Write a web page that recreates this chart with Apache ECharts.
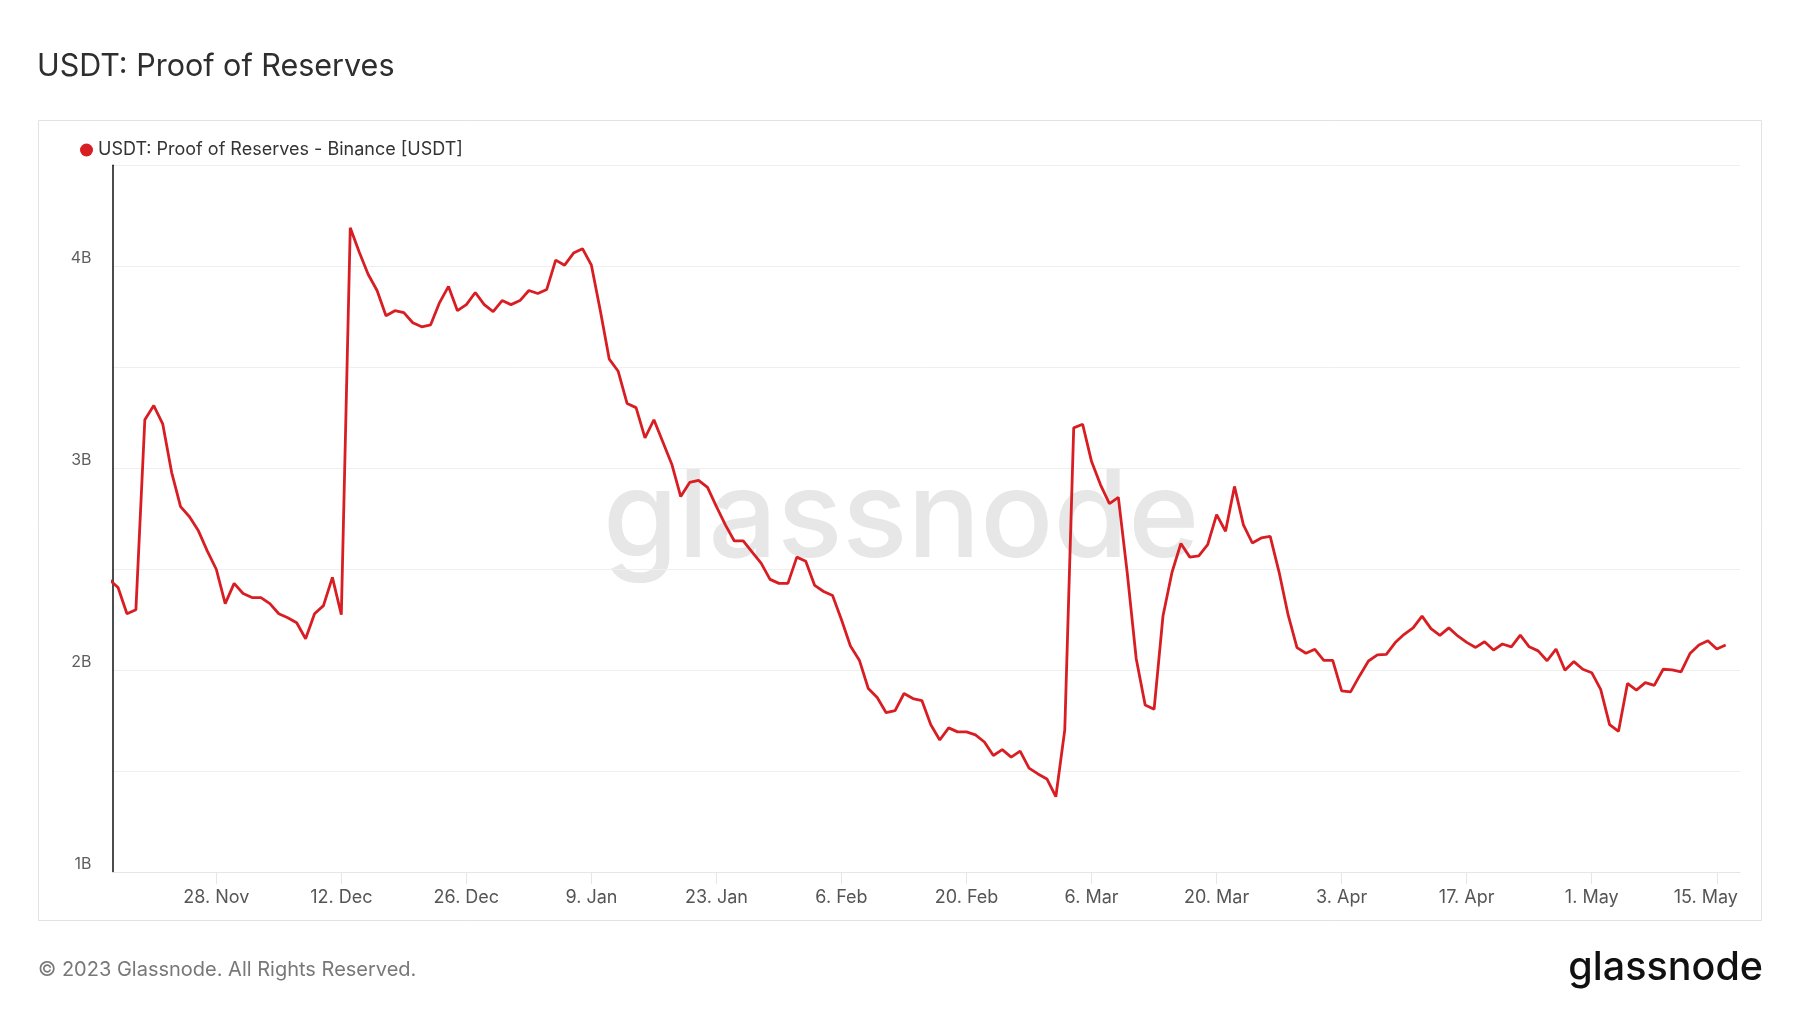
<!DOCTYPE html>
<html>
<head>
<meta charset="utf-8">
<script src="https://cdn.jsdelivr.net/npm/echarts@6/dist/echarts.min.js"></script>
<style>
  html, body { margin: 0; padding: 0; background: #ffffff; }
  #chart { width: 1800px; height: 1013px; }
</style>
</head>
<body>
<div id="chart"></div>
<script>
// ---- data ----
const seriesName = 'USDT: Proof of Reserves - Binance [USDT]';
const firstDay = '2022-11-16';   // daily values, one per day from this date
// Binance USDT reserves, in billions of USDT
const reservesB = [
  2.45, 2.41, 2.28, 2.30, 3.24, 3.31, 3.22, 2.98, 2.81, 2.76, 2.69, 2.59,
  2.50, 2.33, 2.43, 2.38, 2.36, 2.36, 2.33, 2.28, 2.26, 2.235, 2.156, 2.28,
  2.32, 2.46, 2.275, 4.19, 4.07, 3.96, 3.88, 3.755, 3.78, 3.77, 3.72, 3.70,
  3.71, 3.82, 3.90, 3.78, 3.81, 3.87, 3.81, 3.775, 3.83, 3.81, 3.83, 3.88,
  3.865, 3.885, 4.03, 4.005, 4.065, 4.087, 4.005, 3.78, 3.54, 3.48, 3.32, 3.30,
  3.15, 3.24, 3.13, 3.02, 2.86, 2.93, 2.94, 2.905, 2.81, 2.72, 2.64, 2.64,
  2.585, 2.53, 2.45, 2.43, 2.43, 2.56, 2.54, 2.42, 2.39, 2.37, 2.25, 2.12,
  2.05, 1.91, 1.865, 1.79, 1.80, 1.885, 1.86, 1.85, 1.73, 1.655, 1.715, 1.695,
  1.695, 1.68, 1.645, 1.578, 1.607, 1.57, 1.60, 1.516, 1.487, 1.462, 1.374, 1.705,
  3.20, 3.218, 3.033, 2.918, 2.825, 2.856, 2.48, 2.057, 1.828, 1.807, 2.27, 2.484,
  2.628, 2.56, 2.566, 2.622, 2.77, 2.688, 2.91, 2.72, 2.63, 2.655, 2.663, 2.485,
  2.275, 2.112, 2.084, 2.104, 2.049, 2.049, 1.898, 1.893, 1.972, 2.046, 2.076, 2.079,
  2.137, 2.178, 2.21, 2.268, 2.206, 2.173, 2.21, 2.17, 2.138, 2.113, 2.141, 2.10,
  2.13, 2.116, 2.174, 2.116, 2.096, 2.047, 2.105, 2.00, 2.043, 2.005, 1.988, 1.905,
  1.731, 1.698, 1.935, 1.902, 1.939, 1.925, 2.005, 2.002, 1.992, 2.083, 2.125, 2.146,
  2.105, 2.125
];
const xTickDates = ['2022-11-28','2022-12-12','2022-12-26','2023-01-09','2023-01-23',
  '2023-02-06','2023-02-20','2023-03-06','2023-03-20','2023-04-03','2023-04-17',
  '2023-05-01','2023-05-15'];
const yTickValues = [1, 2, 3, 4];
const monthNames = ['Jan','Feb','Mar','Apr','May','Jun','Jul','Aug','Sep','Oct','Nov','Dec'];

// ---- build (x = day number since 1970-01-01, UTC) ----
const DAY = 86400000;
const dayNum = s => Math.round(Date.parse(s + 'T00:00:00Z') / DAY);
const d0 = dayNum(firstDay);
const lineData = reservesB.map((v, i) => [d0 + i, v]);
const tickDays = xTickDates.map(dayNum);
const lastTick = tickDays[tickDays.length - 1];
const anchor = dayNum('2022-11-28');

const FONT = 'Inter, "Noto Sans", sans-serif';
const chart = echarts.init(document.getElementById('chart'), null, { renderer: 'canvas' });

chart.setOption({
  animation: false,
  backgroundColor: '#ffffff',
  title: {
    text: 'USDT: Proof of Reserves',
    left: 37, top: 51.5, padding: 0,
    textStyle: { fontFamily: FONT, fontSize: 30.5, fontWeight: 400, color: '#2e2e2e' }
  },
  legend: {
    data: [seriesName],
    left: 80, top: 141, padding: 0,
    icon: 'circle', itemWidth: 13, itemHeight: 13,
    textStyle: { fontFamily: FONT, fontSize: 18, color: '#333333' }
  },
  grid: { left: 112.5, right: 60, top: 165.2, bottom: 140.7, containLabel: false },
  xAxis: {
    type: 'value',
    min: anchor - 11.62,
    max: anchor + 170.6,
    axisLine: { show: true, onZero: false, lineStyle: { color: '#e6e6e6', width: 1 } },
    axisTick: { show: true, length: 12, lineStyle: { color: '#e6e6e6' }, customValues: tickDays },
    splitLine: { show: false },
    axisLabel: {
      customValues: tickDays,
      margin: 16,
      fontFamily: FONT, fontSize: 18, color: '#555555',
      formatter: v => {
        const d = new Date(v * DAY);
        const s = d.getUTCDate() + '. ' + monthNames[d.getUTCMonth()];
        return v === lastTick ? '{last|' + s + '}' : s;
      },
      rich: { last: { fontFamily: FONT, fontSize: 18, color: '#555555', padding: [0, 22, 0, 0] } }
    }
  },
  yAxis: {
    type: 'value',
    min: 1, max: 4.5, interval: 0.5,
    axisLine: { show: true, onZero: false, lineStyle: { color: '#111111', width: 1.5 } },
    axisTick: { show: false },
    splitLine: { show: true, lineStyle: { color: '#efefef', width: 1 } },
    axisLabel: {
      margin: 21,
      verticalAlign: 'bottom',
      padding: [0, 0, 0, 0],
      fontFamily: FONT, fontSize: 16, color: '#5f5f5f',
      formatter: v => yTickValues.includes(v) ? v + 'B' : ''
    }
  },
  graphic: [
    { type: 'rect', z: -10, silent: true,
      shape: { x: 38.5, y: 120.5, width: 1723, height: 800 },
      style: { fill: 'none', stroke: '#e2e2e2', lineWidth: 1 } },
    { type: 'text', z: 0, silent: true, left: 603, top: 460,
      style: { text: 'glassnode', fontFamily: FONT, fontSize: 121, fontWeight: 500, fill: '#e7e7e7' } },
    { type: 'text', silent: true, x: 38, y: 970,
      style: { text: '© 2023 Glassnode. All Rights Reserved.', fontFamily: FONT, fontSize: 20,
               fill: '#787878', verticalAlign: 'middle', align: 'left' } },
    { type: 'text', silent: true, x: 1763, y: 968.5,
      style: { text: 'glassnode', fontFamily: FONT, fontSize: 39.5, fontWeight: 500,
               fill: '#111111', verticalAlign: 'middle', align: 'right' } }
  ],
  series: [{
    name: seriesName,
    type: 'line',
    data: lineData,
    showSymbol: false,
    clip: true,
    color: '#d81e23',
    lineStyle: { color: '#d81e23', width: 2.8 },
    z: 5
  }]
});
</script>
</body>
</html>
